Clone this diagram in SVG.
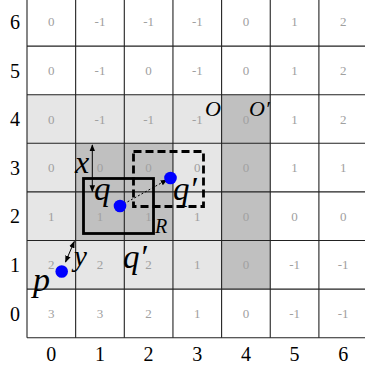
<svg xmlns="http://www.w3.org/2000/svg" width="365" height="372" viewBox="0 0 365 372">
<style>
text{font-family:"Liberation Serif","Times New Roman",serif}
.num{font-size:13px;fill:#a0a0a0;text-anchor:middle}
.ax{font-size:20px;fill:#000;text-anchor:middle}
.lbl{font-style:italic;fill:#000}
.grid line{stroke:#222;stroke-width:1.1}
.pt{fill:#0000ff}
</style>
<defs>
<marker id="ah" viewBox="0 0 10 10" refX="9" refY="5" markerWidth="7" markerHeight="7" orient="auto-start-reverse" markerUnits="userSpaceOnUse">
<path d="M0,1 L10,5 L0,9 z" fill="#000"/>
</marker>
</defs>
<rect width="365" height="372" fill="#fff"/>
<g id="shading">
<rect x="27" y="94.7" width="194.6" height="194.4" fill="#e6e6e6"/>
<rect x="75.65" y="143.3" width="97.3" height="97.2" fill="#c0c0c0"/>
<rect x="221.6" y="94.7" width="48.65" height="194.4" fill="#c0c0c0"/>
</g>
<g id="values">
<text class="num" x="51.3" y="26.3">0</text><text class="num" x="100" y="26.3">-1</text><text class="num" x="148.6" y="26.3">-1</text><text class="num" x="197.3" y="26.3">-1</text><text class="num" x="245.9" y="26.3">0</text><text class="num" x="294.6" y="26.3">1</text><text class="num" x="343.2" y="26.3">2</text>
<text class="num" x="51.3" y="74.9">0</text><text class="num" x="100" y="74.9">-1</text><text class="num" x="148.6" y="74.9">0</text><text class="num" x="197.3" y="74.9">-1</text><text class="num" x="245.9" y="74.9">0</text><text class="num" x="294.6" y="74.9">1</text><text class="num" x="343.2" y="74.9">2</text>
<text class="num" x="51.3" y="123.5">0</text><text class="num" x="100" y="123.5">-1</text><text class="num" x="148.6" y="123.5">-1</text><text class="num" x="197.3" y="123.5">-1</text><text class="num" x="245.9" y="123.5">0</text><text class="num" x="294.6" y="123.5">1</text><text class="num" x="343.2" y="123.5">2</text>
<text class="num" x="51.3" y="172.1">0</text><text class="num" x="100" y="172.1">0</text><text class="num" x="148.6" y="172.1">0</text><text class="num" x="197.3" y="172.1">0</text><text class="num" x="245.9" y="172.1">0</text><text class="num" x="294.6" y="172.1">1</text><text class="num" x="343.2" y="172.1">1</text>
<text class="num" x="51.3" y="220.7">1</text><text class="num" x="100" y="220.7">1</text><text class="num" x="148.6" y="220.7">1</text><text class="num" x="197.3" y="220.7">1</text><text class="num" x="245.9" y="220.7">0</text><text class="num" x="294.6" y="220.7">0</text><text class="num" x="343.2" y="220.7">0</text>
<text class="num" x="51.3" y="269.3">2</text><text class="num" x="100" y="269.3">2</text><text class="num" x="148.6" y="269.3">2</text><text class="num" x="197.3" y="269.3">1</text><text class="num" x="245.9" y="269.3">0</text><text class="num" x="294.6" y="269.3">-1</text><text class="num" x="343.2" y="269.3">-1</text>
<text class="num" x="51.3" y="317.9">3</text><text class="num" x="100" y="317.9">3</text><text class="num" x="148.6" y="317.9">2</text><text class="num" x="197.3" y="317.9">1</text><text class="num" x="245.9" y="317.9">0</text><text class="num" x="294.6" y="317.9">-1</text><text class="num" x="343.2" y="317.9">-1</text>
</g>
<g id="grid" class="grid">
<line x1="27" y1="-3" x2="27" y2="337.7"/><line x1="75.65" y1="-3" x2="75.65" y2="337.7"/><line x1="124.3" y1="-3" x2="124.3" y2="337.7"/><line x1="172.95" y1="-3" x2="172.95" y2="337.7"/><line x1="221.6" y1="-3" x2="221.6" y2="337.7"/><line x1="270.25" y1="-3" x2="270.25" y2="337.7"/><line x1="318.9" y1="-3" x2="318.9" y2="337.7"/>
<line x1="27" y1="337.7" x2="366" y2="337.7"/><line x1="27" y1="289.1" x2="366" y2="289.1"/><line x1="27" y1="240.5" x2="366" y2="240.5"/><line x1="27" y1="191.9" x2="366" y2="191.9"/><line x1="27" y1="143.3" x2="366" y2="143.3"/><line x1="27" y1="94.7" x2="366" y2="94.7"/><line x1="27" y1="46.1" x2="366" y2="46.1"/>
</g>
<g id="axes">
<text class="ax" x="15" y="29">6</text><text class="ax" x="15" y="77.6">5</text><text class="ax" x="15" y="126.2">4</text><text class="ax" x="15" y="174.8">3</text><text class="ax" x="15" y="223.4">2</text><text class="ax" x="15" y="272">1</text><text class="ax" x="15" y="320.6">0</text>
<text class="ax" x="51.3" y="361">0</text><text class="ax" x="100" y="361">1</text><text class="ax" x="148.6" y="361">2</text><text class="ax" x="197.3" y="361">3</text><text class="ax" x="245.9" y="361">4</text><text class="ax" x="294.6" y="361">5</text><text class="ax" x="343.2" y="361">6</text>
</g>
<g id="R">
<rect x="83.5" y="178.5" width="70" height="55" fill="none" stroke="#000" stroke-width="2.8"/>
<text class="lbl" x="155" y="232.5" font-size="20">R</text>
</g>
<g id="Rprime">
<rect x="133.5" y="151.5" width="70" height="55" fill="none" stroke="#000" stroke-width="2.8" stroke-dasharray="8,4"/>
</g>
<g id="connectors">
<line x1="124" y1="203.8" x2="167" y2="179.8" stroke="#000" stroke-width="1" stroke-dasharray="2,2" marker-end="url(#ah)"/>
<line x1="92.3" y1="145" x2="92.3" y2="191.5" stroke="#000" stroke-width="1" marker-start="url(#ah)" marker-end="url(#ah)"/>
<line x1="74.3" y1="241.5" x2="65.5" y2="262" stroke="#000" stroke-width="1" marker-start="url(#ah)" marker-end="url(#ah)"/>
</g>
<g id="q">
<circle class="pt" cx="120" cy="206" r="6.3"/>
<text class="lbl" x="94" y="200" font-size="33">q</text>
</g>
<g id="qprime">
<circle class="pt" cx="170.5" cy="178" r="6.3"/>
<text class="lbl" x="173" y="200" font-size="33">q′</text>
</g>
<g id="p">
<circle class="pt" cx="61.7" cy="271.5" r="6.3"/>
<text class="lbl" x="33" y="291" font-size="34">p</text>
</g>
<g id="labels">
<text class="lbl" x="75" y="173" font-size="32">x</text>
<text class="lbl" x="74" y="266" font-size="29">y</text>
<text class="lbl" x="123" y="268" font-size="33">q′</text>
<text class="lbl" x="205" y="116" font-size="22">O</text>
<text class="lbl" x="249" y="116" font-size="22">O′</text>
</g>
</svg>
